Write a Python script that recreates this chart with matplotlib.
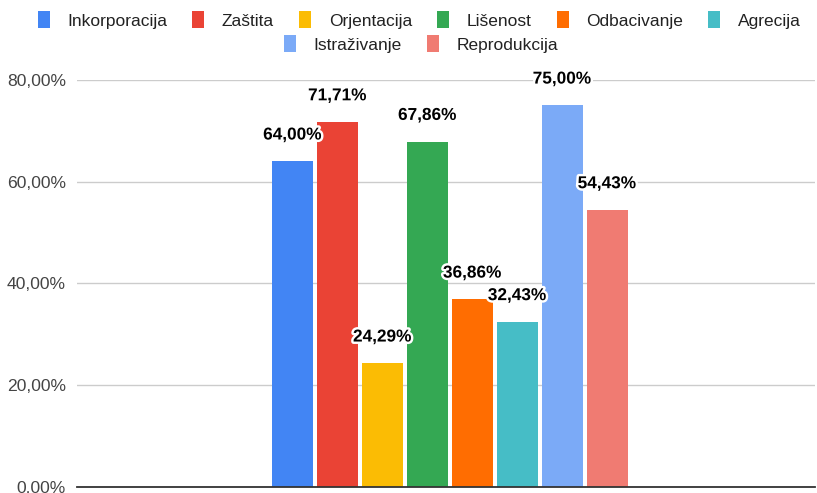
import matplotlib.pyplot as plt
import matplotlib.patheffects as pe
from matplotlib.patches import Patch

plt.rcParams['font.family'] = ['Liberation Sans', 'DejaVu Sans']

# data
series = ["Inkorporacija", "Zaštita", "Orjentacija", "Lišenost",
          "Odbacivanje", "Agrecija", "Istraživanje", "Reprodukcija"]
values = [64.00, 71.71, 24.29, 67.86, 36.86, 32.43, 75.00, 54.43]
colors = ["#4285F4", "#EA4335", "#FBBC04", "#34A853",
          "#FF6D01", "#46BDC6", "#7BAAF7", "#F07B72"]
yticks = [0, 20, 40, 60, 80]

fig = plt.figure(figsize=(8.17, 4.93), dpi=100)
ax = fig.add_axes([0.0943, 0.0122, 0.9033, 0.8255])

step = 0.0609
width = 0.0555
n = len(values)
offset0 = 0.005 - step * (n - 1) / 2
for i, (name, v, c) in enumerate(zip(series, values, colors)):
    x = offset0 + i * step
    ax.bar(x, v, width=width, color=c, label=name, zorder=3)
    t = ax.annotate(f"{v:.2f}%".replace(".", ","), (x, v), xytext=(0, 19),
                    textcoords="offset points", ha="center", va="center",
                    fontsize=12.4, fontweight="bold", color="black",
                    zorder=5, annotation_clip=False)
    t.set_path_effects([pe.withStroke(linewidth=3.5, foreground="white")])

ax.set_xlim(-0.5, 0.5)
ax.set_ylim(0, 80)
ax.set_yticks(yticks)
ax.set_yticklabels([f"{y:.2f}%".replace(".", ",") for y in yticks],
                   fontsize=12.6, color="#444444")
ax.set_xticks([])
ax.tick_params(axis="y", length=0, pad=8)
ax.grid(axis="y", color="#cccccc", linewidth=1, zorder=0)
for s in ["top", "right", "left"]:
    ax.spines[s].set_visible(False)
ax.spines["bottom"].set_color("#333333")
ax.spines["bottom"].set_linewidth(1.3)
ax.spines["bottom"].set_zorder(4)

handles = [Patch(facecolor=c, edgecolor="none") for c in colors]
leg_kw = dict(frameon=False, fontsize=12.5, handlelength=0.7, handleheight=1.1,
              handletextpad=1.0, columnspacing=1.45, borderaxespad=0)
leg1 = fig.legend(handles[:6], series[:6], ncol=6, loc="center",
                  bbox_to_anchor=(0.513, 1 - 20 / 493), **leg_kw)
leg2 = fig.legend(handles[6:], series[6:], ncol=2, loc="center",
                  bbox_to_anchor=(0.515, 1 - 44 / 493), **leg_kw)
for leg in (leg1, leg2):
    for t in leg.get_texts():
        t.set_color("#222222")

fig.savefig("out.png", dpi=100)
